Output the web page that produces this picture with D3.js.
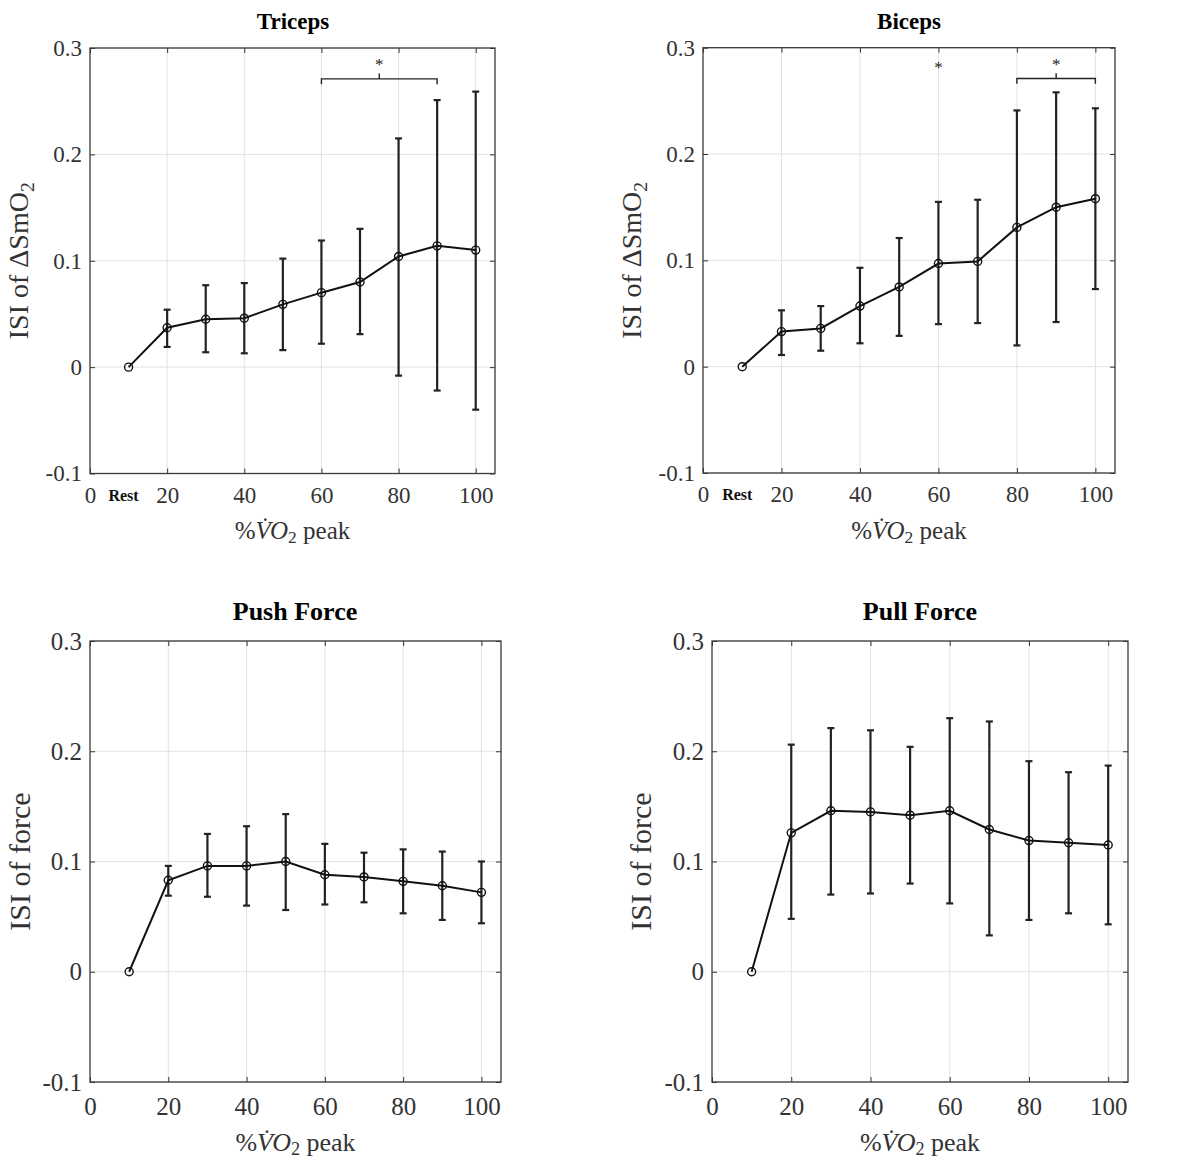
<!DOCTYPE html>
<html><head><meta charset="utf-8">
<script src="https://cdn.jsdelivr.net/npm/d3@7"></script>
<style>body{margin:0;background:#fff}svg{display:block}text{font-family:"Liberation Serif","DejaVu Serif",serif}</style>
</head><body>
<svg id="c" width="1201" height="1163" font-family="Liberation Serif, serif"></svg>
<script>
// ---- data ----
const xVals = [10,20,30,40,50,60,70,80,90,100];
const xTicks = [0,20,40,60,80,100];
const yTicks = [-0.1,0,0.1,0.2,0.3];
const yTickLabels = ["-0.1","0","0.1","0.2","0.3"];
const panelTitles = ["Triceps","Biceps","Push Force","Pull Force"];

const triMean  = [0,0.037,0.045,0.046,0.059,0.070,0.080,0.104,0.114,0.110];
const triUpper = [0,0.054,0.077,0.079,0.102,0.119,0.130,0.215,0.251,0.259];
const triLower = [0,0.019,0.014,0.013,0.016,0.022,0.031,-0.008,-0.022,-0.040];

const biMean  = [0,0.033,0.036,0.057,0.075,0.097,0.099,0.131,0.150,0.158];
const biUpper = [0,0.053,0.057,0.093,0.121,0.155,0.157,0.241,0.258,0.243];
const biLower = [0,0.011,0.015,0.022,0.029,0.040,0.041,0.020,0.042,0.073];

const pushMean  = [0,0.083,0.096,0.096,0.100,0.088,0.086,0.082,0.078,0.072];
const pushUpper = [0,0.096,0.125,0.132,0.143,0.116,0.108,0.111,0.109,0.100];
const pushLower = [0,0.069,0.068,0.060,0.056,0.061,0.063,0.053,0.047,0.044];

const pullMean  = [0,0.126,0.146,0.145,0.142,0.146,0.129,0.119,0.117,0.115];
const pullUpper = [0,0.206,0.221,0.219,0.204,0.230,0.227,0.191,0.181,0.187];
const pullLower = [0,0.048,0.070,0.071,0.080,0.062,0.033,0.047,0.053,0.043];

// significance annotations
const triBrackets = [[60,90]];
const triStars = [];
const biBrackets = [[80,100]];
const biStars = [60];
const bracketLevel = 0.271;
const starLevel = 0.287;

// ---- drawing ----
const svg = d3.select("#c");
const SERIF = "Liberation Serif, DejaVu Serif, serif";

function panel(cfg){
  const {L,R,T,B} = cfg.box;
  const x = d3.scaleLinear().domain([0,105]).range([L,R]);
  const y = d3.scaleLinear().domain([-0.1,0.3]).range([B,T]);
  const g = svg.append("g");

  // grid
  g.selectAll(".gx").data(xTicks.filter(d=>d>0)).join("line")
    .attr("x1",d=>x(d)).attr("x2",d=>x(d)).attr("y1",T).attr("y2",B)
    .attr("stroke","#e2e2e2").attr("stroke-width",1);
  g.selectAll(".gy").data(yTicks).join("line")
    .attr("x1",L).attr("x2",R).attr("y1",d=>y(d)).attr("y2",d=>y(d))
    .attr("stroke","#e2e2e2").attr("stroke-width",1);

  // axes
  const fs = cfg.tickFont;
  const ax = g.append("g").attr("transform",`translate(0,${B})`)
    .call(d3.axisBottom(x).tickValues(xTicks).tickFormat(d3.format("d")).tickSize(-5).tickPadding(cfg.xPad));
  const ay = g.append("g").attr("transform",`translate(${L},0)`)
    .call(d3.axisLeft(y).tickValues(yTicks).tickFormat((d,i)=>yTickLabels[i]).tickSize(-5).tickPadding(8));
  const at = g.append("g").attr("transform",`translate(0,${T})`)
    .call(d3.axisTop(x).tickValues(xTicks).tickFormat("").tickSize(-5));
  const ar = g.append("g").attr("transform",`translate(${R},0)`)
    .call(d3.axisRight(y).tickValues(yTicks).tickFormat("").tickSize(-5));
  [ax,ay,at,ar].forEach(a=>{
    a.attr("font-family",SERIF).attr("font-size",fs);
    a.select(".domain").remove();
    a.selectAll(".tick line").attr("stroke","#333").attr("stroke-width",1);
    a.selectAll("text").attr("font-size",fs).attr("fill","#333").attr("font-family",SERIF);
  });
  g.append("rect").attr("x",L).attr("y",T).attr("width",R-L).attr("height",B-T)
    .attr("fill","none").attr("stroke","#3a3a3a").attr("stroke-width",1.3);

  if(cfg.rest){
    g.append("text").attr("x",x(10)-5).attr("y",B+cfg.restDy).attr("text-anchor","middle")
      .attr("font-size",16).attr("font-weight","bold").attr("fill","#111").text("Rest");
  }

  // title
  g.append("text").attr("x",cfg.titleX).attr("y",cfg.titleY).attr("text-anchor","middle")
    .attr("font-size",cfg.titleFont).attr("font-weight","bold").attr("fill","#000").text(cfg.title);

  // y label
  const yl = g.append("text").attr("transform",`translate(${cfg.yLabX},${(T+B)/2})rotate(-90)`)
    .attr("text-anchor","middle").attr("font-size",cfg.yLabFont).attr("fill","#333");
  if(cfg.ylab==="smo2"){
    yl.append("tspan").text("ISI of ΔSmO");
    yl.append("tspan").attr("font-size",cfg.yLabFont*0.7).attr("dy","0.3em").text("2");
  } else {
    yl.append("tspan").text("ISI of force");
  }

  // x label
  const xl = g.append("text").attr("x",(L+R)/2).attr("y",cfg.xLabY).attr("text-anchor","middle")
    .attr("font-size",cfg.xLabFont).attr("fill","#333");
  xl.append("tspan").text("%");
  xl.append("tspan").attr("font-style","italic").text("V\u0307O");
  xl.append("tspan").attr("font-size",cfg.xLabFont*0.7).attr("dy","0.2em").text("2");
  xl.append("tspan").attr("dy","-0.14em").text(" peak");

  // data
  const pts = xVals.map((v,i)=>({x:v,m:cfg.mean[i],u:cfg.upper[i],l:cfg.lower[i]}));
  const eb = pts.filter(p=>p.u!==p.l);
  const cw = 3.5;
  g.selectAll(".eb").data(eb).join("line")
    .attr("x1",d=>x(d.x)).attr("x2",d=>x(d.x)).attr("y1",d=>y(d.u)).attr("y2",d=>y(d.l))
    .attr("stroke","#222").attr("stroke-width",2.2);
  g.selectAll(".cu").data(eb).join("line")
    .attr("x1",d=>x(d.x)-cw).attr("x2",d=>x(d.x)+cw).attr("y1",d=>y(d.u)).attr("y2",d=>y(d.u))
    .attr("stroke","#222").attr("stroke-width",2.2);
  g.selectAll(".cl").data(eb).join("line")
    .attr("x1",d=>x(d.x)-cw).attr("x2",d=>x(d.x)+cw).attr("y1",d=>y(d.l)).attr("y2",d=>y(d.l))
    .attr("stroke","#222").attr("stroke-width",2.2);
  g.append("path").datum(pts)
    .attr("d",d3.line().x(d=>x(d.x)).y(d=>y(d.m)))
    .attr("fill","none").attr("stroke","#111").attr("stroke-width",2);
  g.selectAll(".pt").data(pts).join("circle")
    .attr("cx",d=>x(d.x)).attr("cy",d=>y(d.m)).attr("r",4)
    .attr("fill","none").attr("stroke","#111").attr("stroke-width",1.4);

  // annotations
  (cfg.brackets||[]).forEach(([a,b])=>{
    const yy = y(bracketLevel), d1 = y(bracketLevel-0.005)-yy, mid=(a+b)/2;
    g.append("path").attr("d",`M${x(a)},${yy+d1}V${yy}H${x(b)}V${yy+d1}M${x(mid)},${yy}V${yy-d1}`)
      .attr("fill","none").attr("stroke","#222").attr("stroke-width",1.4);
    g.append("text").attr("x",x(mid)).attr("y",y(starLevel)+8).attr("text-anchor","middle")
      .attr("font-size",17).attr("fill","#222").text("*");
  });
  (cfg.stars||[]).forEach(s=>{
    g.append("text").attr("x",x(s)).attr("y",y(starLevel-0.003)+8).attr("text-anchor","middle")
      .attr("font-size",17).attr("fill","#222").text("*");
  });
}

const topCommon = {tickFont:23, xPad:13, titleFont:23, titleY:29, yLabFont:28, xLabFont:25, ylab:"smo2", rest:true, restDy:27};
const botCommon = {tickFont:25, xPad:15, titleFont:26, titleY:620, yLabFont:30, xLabFont:26, ylab:"force", rest:false};

panel({...topCommon, box:{L:90,R:495,T:48,B:473.5}, title:panelTitles[0], titleX:293, yLabX:28, xLabY:539,
  mean:triMean, upper:triUpper, lower:triLower, brackets:triBrackets, stars:triStars});
panel({...topCommon, box:{L:703,R:1115,T:47.7,B:473}, title:panelTitles[1], titleX:909, yLabX:641, xLabY:539,
  mean:biMean, upper:biUpper, lower:biLower, brackets:biBrackets, stars:biStars});
panel({...botCommon, box:{L:90,R:501,T:641,B:1082}, title:panelTitles[2], titleX:295, yLabX:30, xLabY:1151,
  mean:pushMean, upper:pushUpper, lower:pushLower});
panel({...botCommon, box:{L:712,R:1128,T:641,B:1082}, title:panelTitles[3], titleX:920, yLabX:651, xLabY:1151,
  mean:pullMean, upper:pullUpper, lower:pullLower});
</script>
</body></html>
